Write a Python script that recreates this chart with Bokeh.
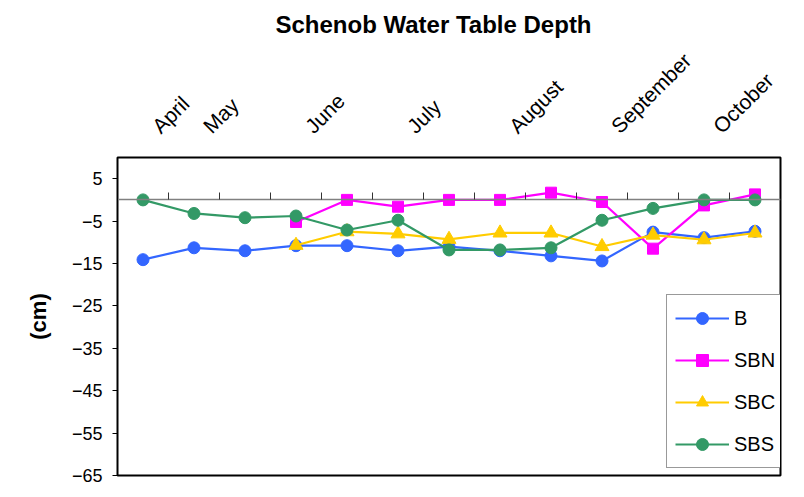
import math
from bokeh.plotting import figure
from bokeh.models import Range1d, LinearAxis, FixedTicker, Legend, LegendItem, Title
from bokeh.embed import file_html
from bokeh.resources import INLINE

nan = float("nan")

samples = list(range(13))
month_labels = ["April", "May", "", "June", "", "July", "", "August", "",
                "September", "", "October", ""]
b_vals = [-14.1, -11.3, -12.0, -10.8, -10.8, -12.0, -11.0, -12.0, -13.2,
          -14.4, -7.6, -8.9, -7.4]
sbn_vals = [nan, nan, nan, -5.2, 0.0, -1.6, 0.0, 0.0, 1.7, -0.5, -11.5, -1.3, 1.3]
sbc_vals = [nan, nan, nan, -10.7, -7.5, -8.0, -9.3, -7.8, -7.8, -11.0, -8.3,
            -9.4, -7.8]
sbs_vals = [0.0, -3.2, -4.2, -3.8, -7.1, -4.8, -11.8, -11.8, -11.3, -4.8, -2.0,
            0.0, 0.0]
y_ticks = [-65, -55, -45, -35, -25, -15, -5, 5]

FONT = "Liberation Sans"

p = figure(width=796, height=489, output_backend="svg", toolbar_location=None,
           x_range=Range1d(-0.5, 12.5), y_range=Range1d(-65, 10),
           min_border_left=117, min_border_right=16, min_border_top=157,
           min_border_bottom=14)
p.grid.visible = False
p.outline_line_color = "black"
p.outline_line_width = 2
p.background_fill_color = "white"
p.border_fill_color = "white"

# bottom axis placed at zero, ticks between samples
bx = p.below[0]
bx.fixed_location = 0
bx.ticker = FixedTicker(ticks=[s + 0.5 for s in samples[:-1]])
bx.major_tick_in = 7
bx.major_tick_out = 0
bx.minor_tick_line_color = None
bx.axis_line_color = "#808080"
bx.axis_line_width = 1.5
bx.major_tick_line_color = "#333333"
bx.major_label_text_font_size = "0px"
bx.major_label_text_color = None

# y axis
ya = p.yaxis[0]
ya.ticker = FixedTicker(ticks=y_ticks)
ya.minor_tick_line_color = None
ya.major_tick_in = 0
ya.major_tick_out = 5
ya.axis_line_color = "black"
ya.major_tick_line_color = "black"
ya.major_label_text_font = FONT
ya.major_label_text_font_size = "18px"
ya.major_label_text_color = "black"
ya.major_label_standoff = 10
ya.axis_label = "(cm)"
ya.axis_label_text_font = FONT
ya.axis_label_text_font_style = "bold"
ya.axis_label_text_font_size = "22px"
ya.axis_label_text_color = "black"
ya.axis_label_standoff = 18

# month labels on top (text starts slightly right of each sample)
label_shift = 0.25
top = LinearAxis(ticker=FixedTicker(ticks=[s + label_shift for s in samples]),
                 major_label_overrides={s + label_shift: m
                                        for s, m in zip(samples, month_labels)},
                 major_label_orientation=math.pi / 4,
                 axis_line_color=None, major_tick_line_color=None,
                 minor_tick_line_color=None,
                 major_label_text_font=FONT, major_label_text_font_size="21px",
                 major_label_text_color="black", major_label_standoff=22)
p.add_layout(top, "above")

p.add_layout(Title(text="Schenob Water Table Depth", align="left",
                   text_font=FONT, text_font_size="24px",
                   text_font_style="bold", text_color="black",
                   offset=158, standoff=0), "above")

series = [
    ("B", b_vals, "#3366FF", "circle", 12),
    ("SBN", sbn_vals, "#FF00FF", "square", 11),
    ("SBC", sbc_vals, "#FFCC00", "triangle", 14),
    ("SBS", sbs_vals, "#339966", "circle", 12),
]
items = []
for name, vals, col, mk, sz in series:
    l = p.line(samples, vals, line_color=col, line_width=2.2)
    s = p.scatter(samples, vals, marker=mk, size=sz, fill_color=col, line_color=col)
    items.append(LegendItem(label=name, renderers=[l, s]))

legend = Legend(items=items, location=(549, 7), glyph_width=54, glyph_height=30,
                spacing=12, padding=8, label_standoff=5, margin=0,
                label_text_font=FONT, label_text_font_size="20px",
                label_text_color="black",
                border_line_color="#333333", border_line_width=1,
                background_fill_color="white", background_fill_alpha=1)
p.add_layout(legend)

open("out.html", "w").write(file_html(p, INLINE))
